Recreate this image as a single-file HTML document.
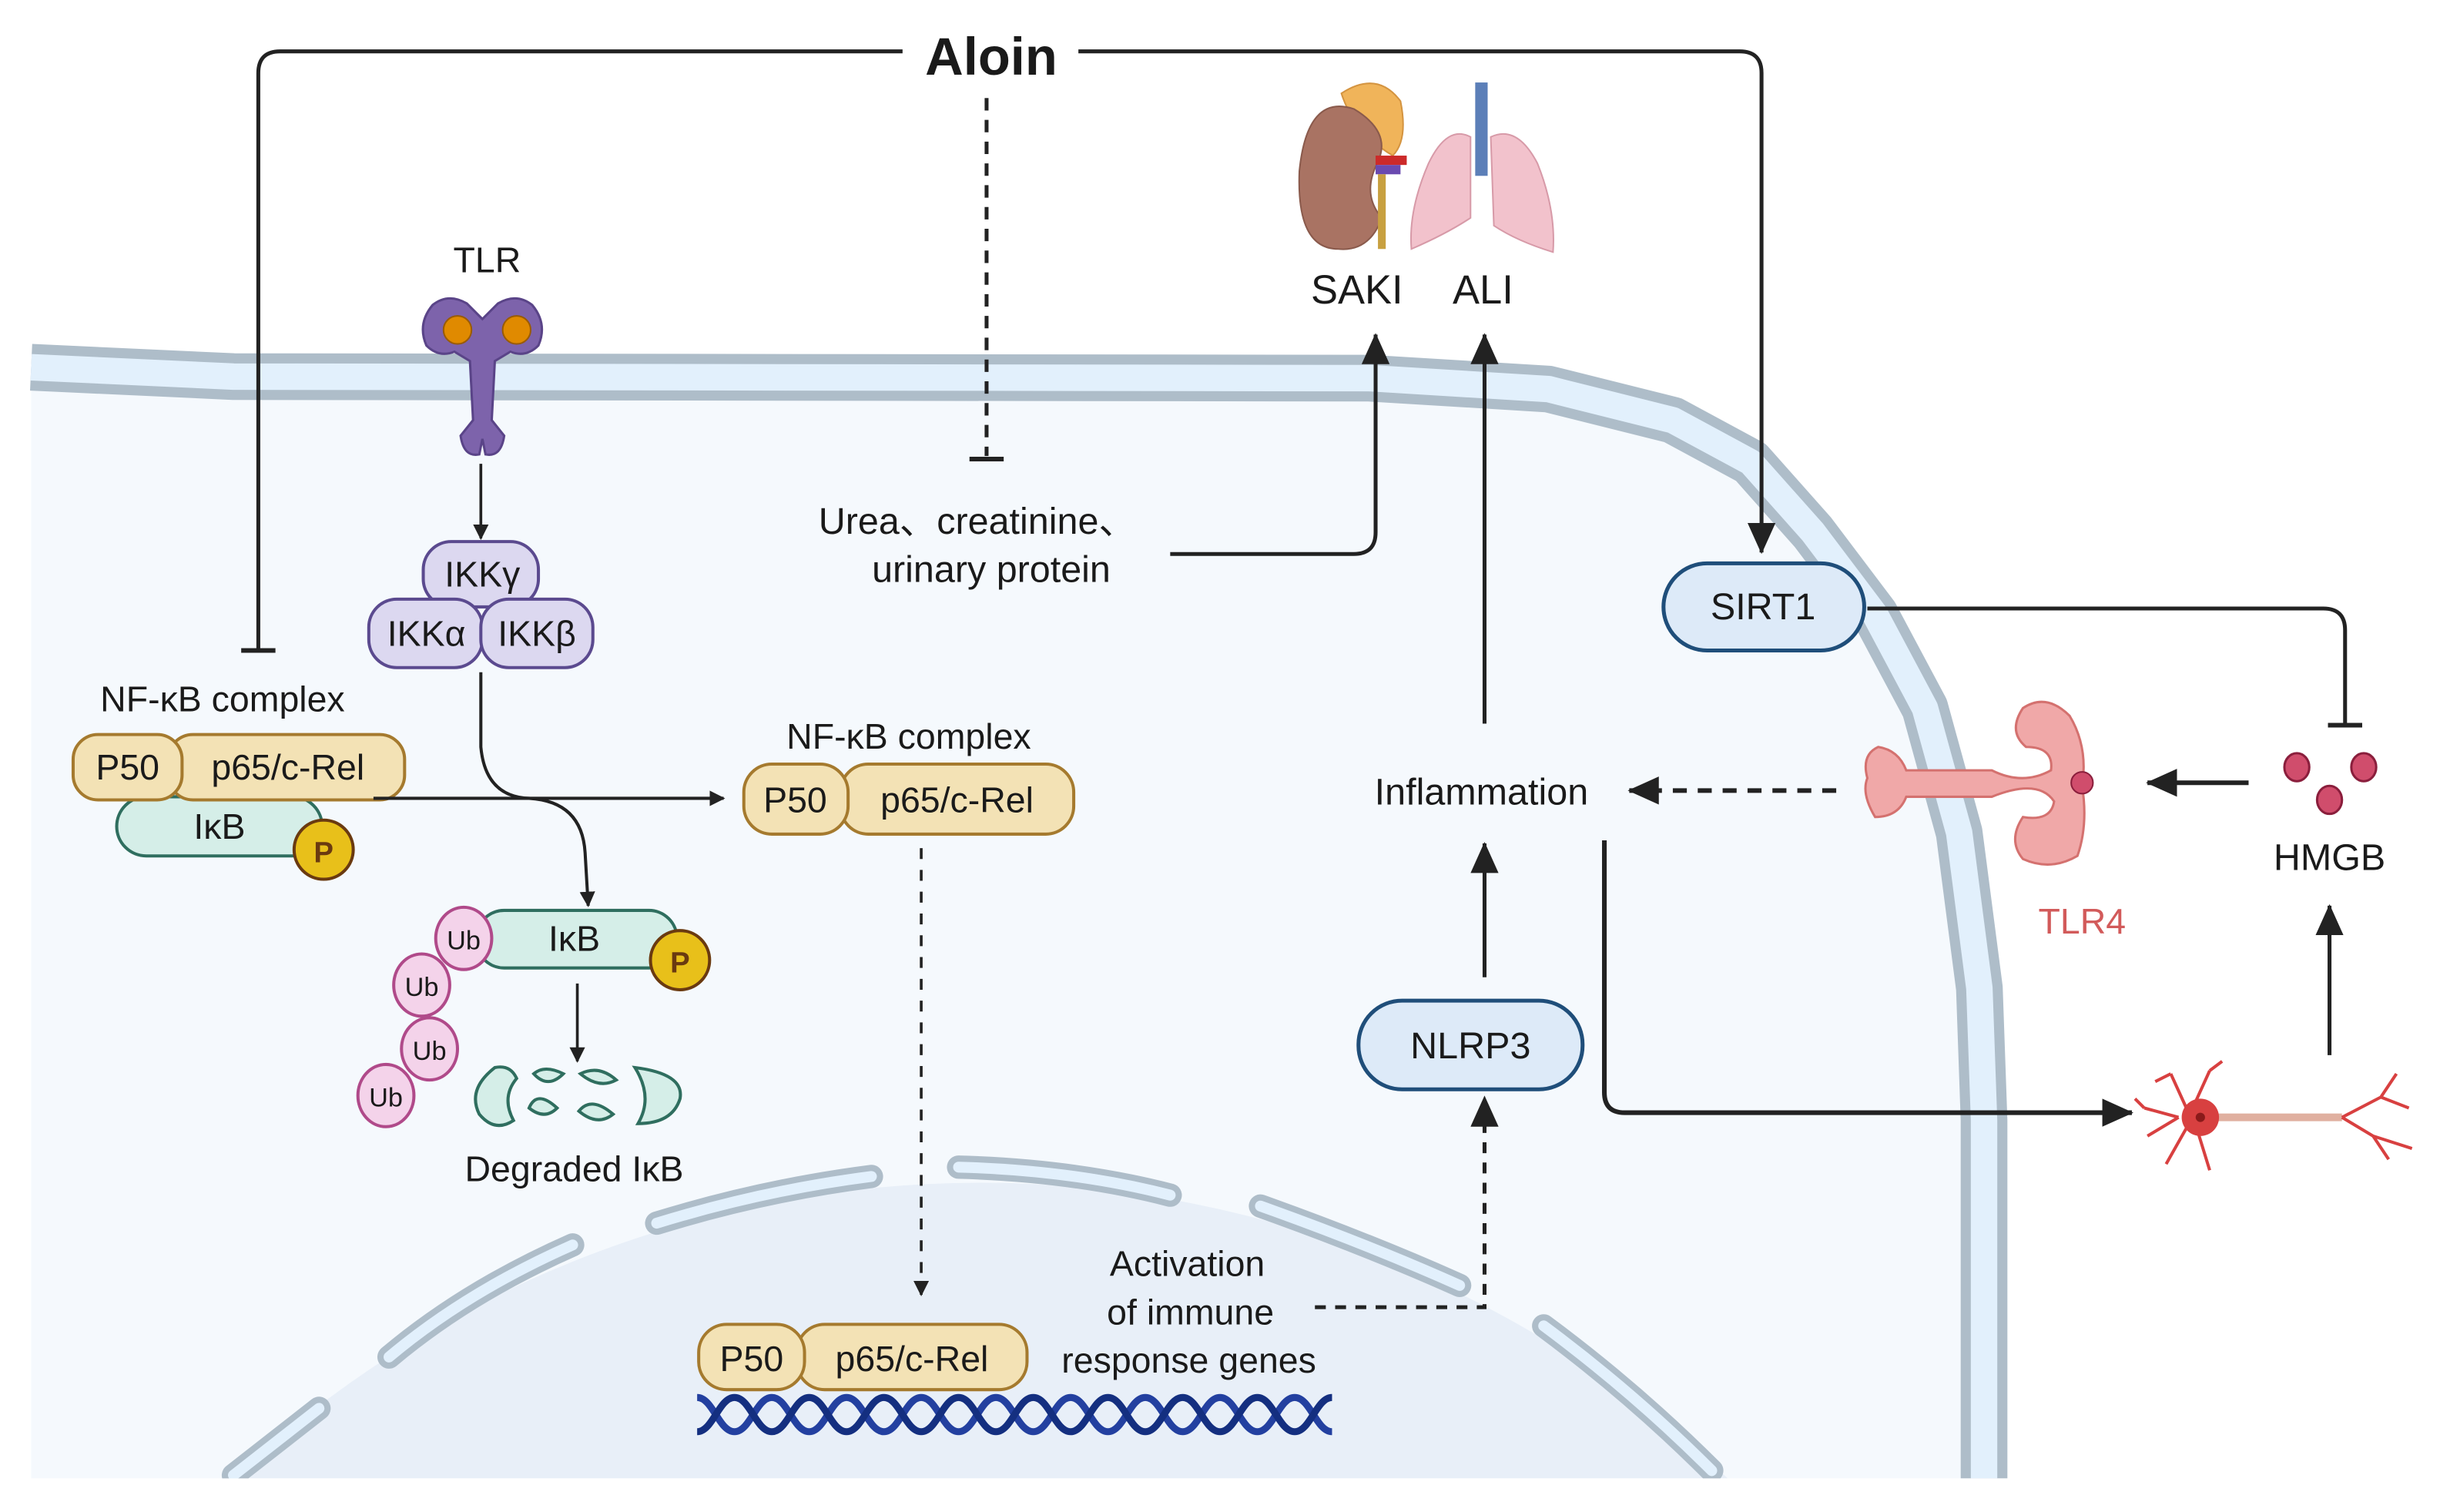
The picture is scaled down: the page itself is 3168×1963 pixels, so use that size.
<!DOCTYPE html>
<html><head><meta charset="utf-8"><style>
html,body{margin:0;padding:0;background:#fff;width:3168px;height:1963px;overflow:hidden;}
svg{display:block;}
text{font-family:"Liberation Sans",sans-serif;fill:#1a1a1a;}
</style></head><body>
<svg width="3168" height="1963" viewBox="0 0 1568 971.6" preserveAspectRatio="none" xmlns="http://www.w3.org/2000/svg">
<defs>
<marker id="ah" markerWidth="10" markerHeight="10" refX="9" refY="5" orient="auto" markerUnits="userSpaceOnUse"><path d="M0,0 L10,5 L0,10 z" fill="#222"/></marker>
<marker id="ahB" markerWidth="20" markerHeight="18" refX="19" refY="9" orient="auto" markerUnits="userSpaceOnUse"><path d="M0,0 L20,9 L0,18 z" fill="#222"/></marker>
<clipPath id="cellclip"><path d="M20,236 L150,242 L880,243 L995,250 L1075,270 L1125,297 L1165,342 L1205,395 L1237,455 L1259,535 L1272,635 L1275,720 L1275,950 L20,950 z"/></clipPath>
</defs>

<path d="M20,236 L150,242 L880,243 L995,250 L1075,270 L1125,297 L1165,342 L1205,395 L1237,455 L1259,535 L1272,635 L1275,720 L1275,950 L20,950 z" fill="#f5f9fd"/>
<g clip-path="url(#cellclip)">
<circle cx="630" cy="1462" r="702" fill="#e8eff8"/>
</g>
<g stroke-linecap="round" fill="none">
<g stroke="#aebdc9" stroke-width="15">
<path d="M150,948 L205,905"/><path d="M250,872 Q300,830 368,800"/><path d="M422,786 Q490,765 560,756"/><path d="M616,750 Q690,752 752,768"/><path d="M810,775 Q880,800 938,826"/><path d="M992,852 Q1050,895 1100,945"/>
</g>
<g stroke="#e2f0fc" stroke-width="7">
<path d="M150,948 L205,905"/><path d="M250,872 Q300,830 368,800"/><path d="M422,786 Q490,765 560,756"/><path d="M616,750 Q690,752 752,768"/><path d="M810,775 Q880,800 938,826"/><path d="M992,852 Q1050,895 1100,945"/>
</g>
</g>
<polyline points="20,236 150,242 880,243 995,250 1075,270 1125,297 1165,342 1205,395 1237,455 1259,535 1272,635 1275,720 1275,950" fill="none" stroke="#aebdc9" stroke-width="30" stroke-linejoin="round"/>
<polyline points="20,236 150,242 880,243 995,250 1075,270 1125,297 1165,342 1205,395 1237,455 1259,535 1272,635 1275,720 1275,950" fill="none" stroke="#e2f0fc" stroke-width="17" stroke-linejoin="round"/>
<rect x="0" y="950" width="1568" height="22" fill="#fff"/>

<text x="637" y="48" font-size="34" font-weight="bold" text-anchor="middle" fill="#000">Aloin</text>
<path d="M580,33 L180,33 Q166,33 166,47 L166,418" fill="none" stroke="#222" stroke-width="2.5"/>
<line x1="155" y1="418" x2="177" y2="418" stroke="#222" stroke-width="3"/>
<path d="M693,33 L1118,33 Q1132,33 1132,47 L1132,355" fill="none" stroke="#222" stroke-width="2.5" marker-end="url(#ahB)"/>
<line x1="634" y1="63" x2="634" y2="293" stroke="#222" stroke-width="2.5" stroke-dasharray="8,6"/>
<line x1="623" y1="295" x2="645" y2="295" stroke="#222" stroke-width="3"/>

<text x="313" y="175" font-size="23" text-anchor="middle">TLR</text>
<g fill="#7d63ab" stroke="#5a4488" stroke-width="1.5">
<path d="M300,195 Q288,188 278,196 Q268,208 274,222 Q282,230 292,226 L302,232 L304,270 L296,280 Q298,294 308,292 L310,282 L312,292 Q322,294 324,280 L316,270 L318,232 L328,226 Q338,230 346,222 Q352,208 342,196 Q332,188 320,195 L310,205 z"/>
</g>
<circle cx="294" cy="212" r="9" fill="#e08a00" stroke="#9a5b00"/>
<circle cx="332" cy="212" r="9" fill="#e08a00" stroke="#9a5b00"/>
<line x1="309" y1="298" x2="309" y2="346" stroke="#222" stroke-width="1.8" marker-end="url(#ah)"/>

<g fill="#dcd8f0" stroke="#5b4a8f" stroke-width="2">
<rect x="272" y="348" width="74" height="42" rx="18"/>
<rect x="237" y="385" width="73" height="44" rx="18"/>
<rect x="309" y="385" width="72" height="44" rx="18"/>
</g>
<text x="310" y="377" font-size="23" text-anchor="middle">IKKγ</text>
<text x="274" y="415" font-size="23" text-anchor="middle">IKKα</text>
<text x="345" y="415" font-size="23" text-anchor="middle">IKKβ</text>

<text x="628" y="343" font-size="24" text-anchor="middle">Urea、creatinine、</text>
<text x="637" y="374" font-size="24" text-anchor="middle">urinary protein</text>
<path d="M752,356 L870,356 Q884,356 884,342 L884,215" fill="none" stroke="#222" stroke-width="2.5" marker-end="url(#ahB)"/>

<path d="M862,60 Q885,45 900,65 Q905,90 895,100 Q870,85 862,60z" fill="#f0b45a" stroke="#d49440"/>
<path d="M870,70 Q840,60 835,110 Q833,160 860,160 Q880,162 888,140 Q875,125 885,105 Q895,85 870,70z" fill="#a97363" stroke="#8a5a4c"/>
<rect x="884" y="100" width="20" height="6" fill="#cc2a2a"/>
<rect x="884" y="106" width="16" height="6" fill="#6a4ab0"/>
<path d="M888,112 L888,160" stroke="#c8a040" stroke-width="5"/>
<rect x="948" y="53" width="8" height="60" fill="#5c7fb8"/>
<path d="M945,88 Q930,80 918,105 Q905,135 907,160 Q930,150 945,140z" fill="#f2c2cc" stroke="#d79aa8"/>
<path d="M958,88 Q975,80 988,105 Q1000,135 998,162 Q975,155 960,145z" fill="#f2c2cc" stroke="#d79aa8"/>
<text x="872" y="195" font-size="26" text-anchor="middle">SAKI</text>
<text x="953" y="195" font-size="26" text-anchor="middle">ALI</text>
<line x1="954" y1="465" x2="954" y2="215" stroke="#222" stroke-width="2.5" marker-end="url(#ahB)"/>

<rect x="1069" y="362" width="129" height="56" rx="28" fill="#ddeaf8" stroke="#1f4e7a" stroke-width="2.5"/>
<text x="1133" y="398" font-size="24" text-anchor="middle">SIRT1</text>
<path d="M1200,391 L1493,391 Q1507,391 1507,405 L1507,465" fill="none" stroke="#222" stroke-width="2.5"/>
<line x1="1496" y1="466" x2="1518" y2="466" stroke="#222" stroke-width="3"/>

<g fill="#d04d6c" stroke="#8a1e3c" stroke-width="1.5">
<ellipse cx="1476" cy="493" rx="8" ry="9"/><ellipse cx="1519" cy="493" rx="8" ry="9"/><ellipse cx="1497" cy="514" rx="8" ry="9"/>
</g>
<text x="1497" y="559" font-size="24" text-anchor="middle">HMGB</text>
<line x1="1445" y1="503" x2="1380" y2="503" stroke="#222" stroke-width="3" marker-end="url(#ahB)"/>
<line x1="1497" y1="678" x2="1497" y2="582" stroke="#222" stroke-width="2.5" marker-end="url(#ahB)"/>

<g fill="#f0a8a8" stroke="#d4716f" stroke-width="1.5">
<path d="M1300,455 Q1315,445 1330,460 Q1342,480 1338,505 Q1342,530 1335,550 Q1318,560 1300,552 Q1290,540 1300,525 Q1318,528 1320,515 Q1310,500 1280,512 L1225,512 Q1220,525 1205,525 Q1196,510 1200,500 Q1196,485 1207,480 Q1220,482 1225,495 L1280,495 Q1300,505 1318,495 Q1320,480 1302,480 Q1290,470 1300,455z"/>
</g>
<circle cx="1338" cy="503" r="7" fill="#d04d6c" stroke="#8a1e3c"/>
<text x="1338" y="600" font-size="23" text-anchor="middle" style="fill:#d25a5a">TLR4</text>

<text x="952" y="517" font-size="24" text-anchor="middle">Inflammation</text>
<line x1="1180" y1="508" x2="1047" y2="508" stroke="#222" stroke-width="3" stroke-dasharray="9,7" marker-end="url(#ahB)"/>
<line x1="954" y1="628" x2="954" y2="542" stroke="#222" stroke-width="2.5" marker-end="url(#ahB)"/>
<path d="M1031,540 L1031,702 Q1031,715 1044,715 L1370,715" fill="none" stroke="#222" stroke-width="3" marker-end="url(#ahB)"/>

<rect x="873" y="643" width="144" height="57" rx="28" fill="#ddeaf8" stroke="#1f4e7a" stroke-width="2.5"/>
<text x="945" y="680" font-size="24" text-anchor="middle">NLRP3</text>
<path d="M845,840 L954,840 L954,705" fill="none" stroke="#222" stroke-width="2.5" stroke-dasharray="7,6" marker-end="url(#ahB)"/>

<g stroke="#d84040" stroke-width="2" fill="none">
<path d="M1400,718 L1378,712 M1400,718 L1380,730 M1405,712 L1395,690 M1410,710 L1420,688 M1405,725 L1392,748 M1412,726 L1420,752 M1395,690 L1385,695 M1420,688 L1428,682 M1378,712 L1372,706"/>
<line x1="1415" y1="718" x2="1505" y2="718" stroke="#e0b0a0" stroke-width="5"/>
<path d="M1505,718 L1530,705 L1540,690 M1530,705 L1548,712 M1505,718 L1525,730 L1535,745 M1525,730 L1550,738"/>
</g>
<circle cx="1414" cy="718" r="12" fill="#d84040"/>
<circle cx="1414" cy="718" r="3" fill="#8a1a1a"/>

<text x="143" y="457" font-size="23" text-anchor="middle">NF-κB complex</text>
<rect x="75" y="512" width="132" height="38" rx="19" fill="#d5eee8" stroke="#2f6e5f" stroke-width="2"/>
<text x="141" y="539" font-size="23" text-anchor="middle">IκB</text>
<rect x="108" y="472" width="152" height="42" rx="16" fill="#f3e2b5" stroke="#a57a2e" stroke-width="2"/>
<rect x="47" y="472" width="70" height="42" rx="16" fill="#f3e2b5" stroke="#a57a2e" stroke-width="2"/>
<text x="82" y="501" font-size="23" text-anchor="middle">P50</text>
<text x="185" y="501" font-size="23" text-anchor="middle">p65/c-Rel</text>
<circle cx="208" cy="546" r="19" fill="#e8c01a" stroke="#6a3a10" stroke-width="2"/>
<text x="208" y="554" font-size="19" font-weight="bold" text-anchor="middle" style="fill:#6a3a10">P</text>
<line x1="240" y1="513" x2="465" y2="513" stroke="#222" stroke-width="2" marker-end="url(#ah)"/>
<path d="M309,432 L309,480 Q312,512 340,513 Q374,515 376,548 L378,582" fill="none" stroke="#222" stroke-width="2" marker-end="url(#ah)"/>

<text x="584" y="481" font-size="23" text-anchor="middle">NF-κB complex</text>
<rect x="540" y="491" width="150" height="45" rx="18" fill="#f3e2b5" stroke="#a57a2e" stroke-width="2"/>
<rect x="478" y="491" width="67" height="45" rx="18" fill="#f3e2b5" stroke="#a57a2e" stroke-width="2"/>
<text x="511" y="522" font-size="23" text-anchor="middle">P50</text>
<text x="615" y="522" font-size="23" text-anchor="middle">p65/c-Rel</text>
<line x1="592" y1="545" x2="592" y2="832" stroke="#222" stroke-width="1.8" stroke-dasharray="7,7" marker-end="url(#ah)"/>

<rect x="306" y="585" width="129" height="37" rx="18" fill="#d5eee8" stroke="#2f6e5f" stroke-width="2"/>
<text x="369" y="611" font-size="23" text-anchor="middle">IκB</text>
<circle cx="437" cy="617" r="19" fill="#e8c01a" stroke="#6a3a10" stroke-width="2"/>
<text x="437" y="625" font-size="19" font-weight="bold" text-anchor="middle" style="fill:#6a3a10">P</text>
<g fill="#f4d3ea" stroke="#b04a8a" stroke-width="2">
<ellipse cx="298" cy="603" rx="18" ry="20"/><ellipse cx="271" cy="633" rx="18" ry="20"/><ellipse cx="276" cy="674" rx="18" ry="20"/><ellipse cx="248" cy="704" rx="18" ry="20"/>
</g>
<g font-size="17" text-anchor="middle">
<text x="298" y="610">Ub</text><text x="271" y="640">Ub</text><text x="276" y="681">Ub</text><text x="248" y="711">Ub</text>
</g>
<line x1="371" y1="632" x2="371" y2="682" stroke="#222" stroke-width="1.8" marker-end="url(#ah)"/>
<g fill="#d5eee8" stroke="#2f6e5f" stroke-width="2">
<path d="M318,686 Q300,700 308,716 Q318,728 330,720 Q322,705 332,693 Q328,684 318,686z"/>
<path d="M343,690 Q350,684 362,690 Q352,700 343,690z M340,712 Q345,700 358,712 Q350,720 340,712z"/>
<path d="M373,690 Q385,684 396,694 Q385,700 373,690z M372,714 Q380,704 394,716 Q384,724 372,714z"/>
<path d="M408,686 Q440,690 437,706 Q432,722 410,722 Q420,705 408,686z"/>
</g>
<text x="369" y="759" font-size="23" text-anchor="middle">Degraded IκB</text>

<rect x="512" y="851" width="148" height="42" rx="18" fill="#f3e2b5" stroke="#a57a2e" stroke-width="2"/>
<rect x="449" y="851" width="68" height="42" rx="18" fill="#f3e2b5" stroke="#a57a2e" stroke-width="2"/>
<text x="483" y="881" font-size="23" text-anchor="middle">P50</text>
<text x="586" y="881" font-size="23" text-anchor="middle">p65/c-Rel</text>
<text x="763" y="820" font-size="23" text-anchor="middle">Activation</text>
<text x="765" y="851" font-size="23" text-anchor="middle">of immune</text>
<text x="764" y="882" font-size="23" text-anchor="middle">response genes</text>
<g fill="none" stroke-width="4.5">
<path d="M448,898 C458,898 462,920 472,920 C482,920 486,898 496,898 C506,898 510,920 520,920 C530,920 534,898 544,898 C554,898 558,920 568,920 C578,920 582,898 592,898 C602,898 606,920 616,920 C626,920 630,898 640,898 C650,898 654,920 664,920 C674,920 678,898 688,898 C698,898 702,920 712,920 C722,920 726,898 736,898 C746,898 750,920 760,920 C770,920 774,898 784,898 C794,898 798,920 808,920 C818,920 822,898 832,898 C842,898 846,920 856,920" stroke="#2340a0"/>
<path d="M448,920 C458,920 462,898 472,898 C482,898 486,920 496,920 C506,920 510,898 520,898 C530,898 534,920 544,920 C554,920 558,898 568,898 C578,898 582,920 592,920 C602,920 606,898 616,898 C626,898 630,920 640,920 C650,920 654,898 664,898 C674,898 678,920 688,920 C698,920 702,898 712,898 C722,898 726,920 736,920 C746,920 750,898 760,898 C770,898 774,920 784,920 C794,920 798,898 808,898 C818,898 822,920 832,920 C842,920 846,898 856,898" stroke="#142f80"/>
</g>
</svg>
</body></html>
